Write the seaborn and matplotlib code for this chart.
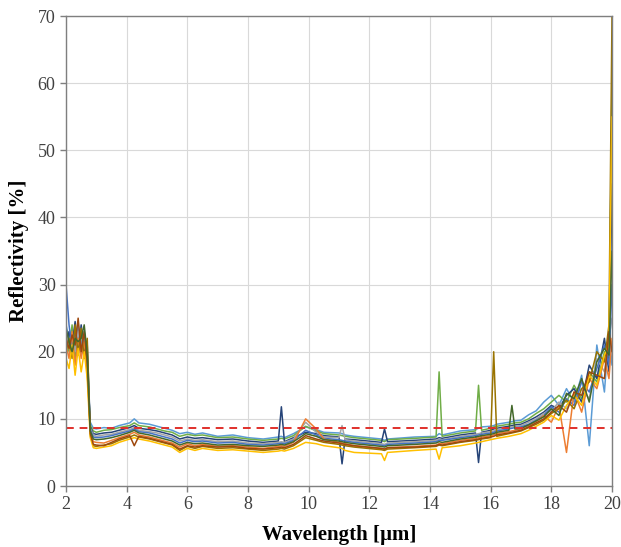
import numpy as np
import pandas as pd
import matplotlib
matplotlib.use("Agg")
import matplotlib.pyplot as plt
import seaborn as sns

wavelength = [2.0, 2.1, 2.2, 2.3, 2.4, 2.5, 2.6, 2.7, 2.8, 2.9, 3.0, 3.25, 3.5, 3.75,
              4.1, 4.25, 4.4, 4.75, 5.0, 5.25, 5.5, 5.75, 6.0, 6.25, 6.5, 7.0, 7.5,
              8.0, 8.5, 9.0, 9.1, 9.2, 9.5, 9.9, 10.25, 10.5, 11.0, 11.1, 11.2, 11.5,
              12.4, 12.5, 12.6, 13.5, 14.2, 14.3, 14.4, 15.0, 15.5, 15.6, 15.7, 16.0,
              16.1, 16.2, 16.6, 16.7, 16.8, 17.0, 17.25, 17.5, 17.75, 18.0, 18.25,
              18.5, 18.75, 19.0, 19.25, 19.5, 19.75, 19.9, 20.0]

s_a = [24, 22, 23.5, 20.5, 24, 21, 23, 18, 9.5, 8.6, 8.5, 8.7, 8.6, 9.0,
       9.4, 10.0, 9.4, 9.2, 8.9, 8.6, 8.3, 7.8, 8.0, 7.7, 7.9, 7.4, 7.6,
       7.2, 7.0, 7.3, 7.4, 7.2, 7.8, 8.8, 8.4, 8.0, 7.9, 7.8, 7.6, 7.4,
       7.0, 6.8, 7.0, 7.3, 7.4, 7.8, 7.6, 8.2, 8.4, 8.6, 8.8, 8.9,
       9.0, 9.2, 9.5, 9.6, 9.7, 9.8, 10.6, 11.2, 12.5, 13.5, 12.0,
       14.5, 12.5, 16.5, 6.0, 21.0, 14.0, 23.0, 18]
s_b = [22, 20, 24, 19, 22.5, 20, 22, 17, 9.0, 8.2, 8.0, 8.3, 8.4, 8.7,
       9.0, 9.4, 9.0, 8.8, 8.5, 8.2, 8.0, 7.4, 7.7, 7.5, 7.6, 7.2, 7.3,
       7.0, 6.8, 7.0, 7.1, 7.0, 7.5, 8.9, 8.2, 7.8, 7.6, 7.5, 7.4, 7.2,
       6.8, 6.6, 6.9, 7.1, 7.3, 17.0, 7.4, 7.9, 8.2, 15.0, 8.3, 8.6,
       8.8, 8.9, 9.2, 9.3, 9.4, 9.5, 10.0, 10.8, 11.5, 12.5, 13.5,
       12.5, 15.0, 13.0, 17.0, 15.5, 20.0, 19.0, 60]
s_c = [21, 23, 21, 24.5, 20, 24, 20, 21, 8.8, 7.8, 7.7, 7.9, 8.0, 8.3,
       8.7, 9.0, 8.6, 8.4, 8.2, 7.9, 7.6, 7.0, 7.3, 7.1, 7.2, 6.9, 7.0,
       6.7, 6.5, 6.7, 11.8, 6.6, 7.2, 8.0, 7.8, 7.5, 7.3, 3.3, 7.0, 6.9,
       6.5, 8.5, 6.6, 6.8, 7.0, 7.2, 7.1, 7.6, 7.9, 3.5, 8.0, 8.3,
       8.5, 8.6, 8.9, 9.0, 9.1, 9.2, 9.7, 10.3, 11.0, 12.0, 11.5,
       13.5, 14.5, 12.5, 18.0, 16.0, 22.0, 17.0, 45]
s_d = [23, 21, 22, 20, 23, 19.5, 22.5, 19, 8.6, 7.6, 7.4, 7.6, 7.7, 8.0,
       8.4, 8.7, 8.3, 8.1, 7.9, 7.6, 7.3, 6.7, 7.0, 6.8, 6.9, 6.6, 6.7,
       6.4, 6.3, 6.5, 6.6, 6.5, 7.0, 9.5, 8.0, 7.3, 7.2, 9.0, 6.9, 6.7,
       6.3, 6.2, 6.4, 6.6, 6.8, 7.0, 6.9, 7.4, 7.7, 7.8, 7.9, 8.1,
       8.2, 8.4, 8.7, 8.8, 8.9, 9.0, 9.5, 10.0, 10.8, 11.2, 12.5,
       11.5, 13.5, 14.5, 13.0, 19.0, 17.0, 22.0, 25]
s_e = [30, 24, 20.5, 23, 21, 23.5, 21, 20, 8.4, 7.3, 7.2, 7.3, 7.5, 7.8,
       8.2, 8.5, 8.1, 7.9, 7.6, 7.3, 7.0, 6.4, 6.8, 6.6, 6.7, 6.4, 6.5,
       6.2, 6.1, 6.3, 6.4, 6.3, 6.8, 8.3, 7.6, 7.1, 6.9, 6.8, 6.7, 6.5,
       6.1, 6.0, 6.2, 6.4, 6.6, 6.8, 6.8, 7.2, 7.5, 7.6, 7.7, 7.9,
       8.0, 8.2, 8.5, 8.6, 8.7, 8.8, 9.2, 9.8, 10.5, 11.8, 11.0,
       13.0, 12.0, 15.5, 14.0, 17.5, 21.0, 18.0, 30]
s_f = [21, 19, 23, 18, 22, 19, 21.5, 17, 8.0, 6.6, 6.5, 6.4, 6.8, 7.2,
       7.7, 8.0, 7.6, 7.3, 7.0, 6.7, 6.4, 5.8, 6.3, 6.0, 6.2, 5.9, 6.0,
       5.8, 5.6, 5.9, 6.0, 5.9, 6.5, 10.0, 8.5, 7.0, 6.5, 6.4, 6.3, 6.0,
       5.6, 5.5, 5.7, 5.9, 6.1, 6.3, 6.3, 6.8, 7.1, 7.2, 7.3, 7.5,
       7.6, 7.8, 8.1, 8.2, 8.3, 8.5, 9.0, 9.6, 10.5, 9.5, 12.0,
       5.0, 14.0, 11.0, 16.0, 14.5, 19.0, 16.0, 22]
s_g = [20, 22, 19, 24, 19.5, 23.5, 19, 22, 7.5, 6.0, 5.9, 6.1, 6.3, 6.8,
       7.3, 7.6, 7.3, 7.0, 6.7, 6.4, 6.1, 5.3, 5.9, 5.6, 5.9, 5.6, 5.7,
       5.5, 5.3, 5.5, 5.6, 5.5, 6.0, 7.2, 6.8, 6.5, 6.2, 6.1, 6.0, 5.8,
       5.4, 5.3, 5.5, 5.7, 5.9, 6.1, 6.0, 6.5, 6.8, 6.9, 7.0, 7.2,
       20.0, 7.4, 7.8, 7.9, 8.0, 8.2, 8.7, 9.2, 9.8, 10.8, 11.5,
       12.8, 11.5, 14.5, 15.5, 20.0, 18.5, 24.0, 70]
s_h = [19, 17.5, 21, 16.5, 20.5, 17, 20, 16, 7.2, 5.7, 5.6, 5.8, 6.0, 6.5,
       7.0, 7.2, 7.0, 6.7, 6.4, 6.1, 5.8, 5.0, 5.6, 5.3, 5.6, 5.3, 5.4,
       5.2, 5.0, 5.2, 5.3, 5.2, 5.6, 6.5, 6.3, 6.0, 5.7, 5.6, 5.3, 5.0,
       4.8, 3.8, 5.0, 5.3, 5.5, 4.0, 5.7, 6.0, 6.4, 6.5, 6.6, 6.9,
       7.0, 7.1, 7.4, 7.5, 7.6, 7.8, 8.3, 8.9, 9.5, 10.5, 9.8,
       12.0, 13.5, 12.0, 16.5, 15.0, 19.5, 21.0, 55]
s_i = [22, 20.5, 22.5, 21, 25, 20, 23, 18.5, 7.8, 6.2, 6.1, 6.0, 6.5, 7.0,
       7.5, 6.0, 7.4, 7.1, 6.8, 6.5, 6.2, 5.5, 6.0, 5.8, 6.0, 5.8, 5.9,
       5.6, 5.5, 5.7, 5.8, 5.7, 6.2, 7.5, 7.0, 6.7, 6.4, 6.3, 6.2, 6.0,
       5.6, 5.5, 5.7, 5.8, 6.0, 6.2, 6.1, 6.6, 6.9, 7.0, 7.1, 7.3,
       7.4, 7.6, 7.9, 8.0, 8.1, 8.3, 8.8, 9.4, 10.0, 11.0, 12.0,
       11.0, 14.0, 13.5, 17.0, 16.5, 16.0, 23.0, 20]
s_j = [23.5, 21.5, 20, 22, 21.5, 22, 24, 19.5, 8.2, 7.0, 6.9, 7.0, 7.2, 7.5,
       8.0, 8.3, 7.9, 7.6, 7.3, 7.0, 6.7, 6.1, 6.5, 6.3, 6.4, 6.1, 6.2,
       6.0, 5.9, 6.1, 6.2, 6.1, 6.6, 7.8, 7.4, 6.9, 6.7, 6.6, 6.5, 6.3,
       5.9, 5.8, 6.0, 6.2, 6.4, 6.6, 6.5, 7.0, 7.3, 7.4, 7.5, 7.7,
       7.8, 8.0, 8.3, 12.0, 8.5, 8.6, 9.1, 9.7, 10.3, 11.5, 10.5,
       13.8, 13.0, 16.0, 12.5, 18.5, 20.5, 19.5, 35]

series_values = [s_a, s_b, s_c, s_d, s_e, s_f, s_g, s_h, s_i, s_j]
series_names = ["S1", "S2", "S3", "S4", "S5", "S6", "S7", "S8", "S9", "S10"]
colors = ["#5B9BD5", "#70AD47", "#264478", "#A5A5A5", "#4472C4",
          "#ED7D31", "#997300", "#FFC000", "#9E480E", "#43682B"]
threshold = 8.6

rows = []
for name, vals in zip(series_names, series_values):
    for w, v in zip(wavelength, vals):
        rows.append({"wl": w, "R": v, "series": name})
df = pd.DataFrame(rows)

sns.set_style("whitegrid")
plt.rcParams["font.family"] = ["Liberation Serif", "DejaVu Serif"]

fig = plt.figure(figsize=(6.21, 5.47), dpi=100)
ax = fig.add_axes([0.1063, 0.1115, 0.8792, 0.8592])

sns.lineplot(data=df, x="wl", y="R", hue="series", palette=colors,
             linewidth=1.1, legend=False, ax=ax, estimator=None, sort=False)
ax.axhline(threshold, color="#E0302B", linestyle=(0, (4, 3)), linewidth=1.4)

ax.set_xlim(2, 20)
ax.set_ylim(0, 70)
ax.set_xticks(range(2, 21, 2))
ax.set_yticks(range(0, 71, 10))
ax.grid(True, color="#D9D9D9", linewidth=0.8)
for sp in ax.spines.values():
    sp.set_color("#7F7F7F")
    sp.set_linewidth(1.0)
ax.tick_params(axis="both", which="both", direction="out", length=4, width=1,
               color="#7F7F7F", labelcolor="#404040", labelsize=13, left=True, bottom=True)
ax.set_xlabel("Wavelength [µm]", fontsize=15, fontweight="bold", color="black", labelpad=8)
ax.set_ylabel("Reflectivity [%]", fontsize=15, fontweight="bold", color="black", labelpad=6)

fig.savefig("out.png", dpi=100)
